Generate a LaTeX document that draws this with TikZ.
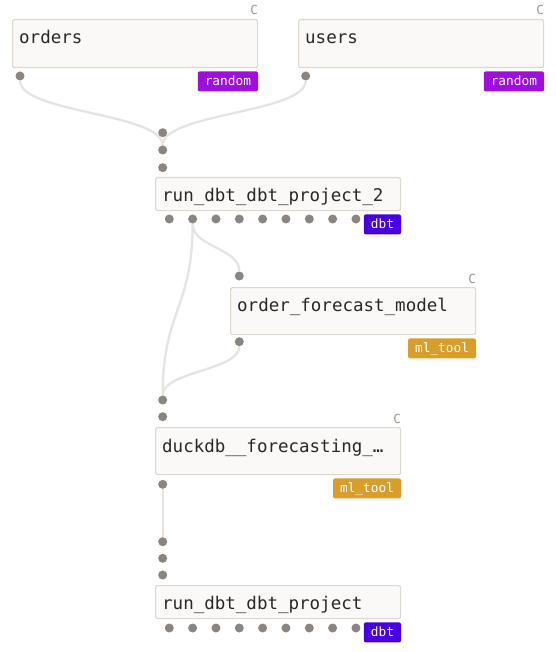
\documentclass[tikz,border=0pt]{standalone}
\usepackage{fontspec}
\setmonofont{DejaVu Sans Mono}
\usetikzlibrary{positioning,calc,backgrounds}
\definecolor{boxfill}{HTML}{FAF9F7}
\definecolor{boxline}{HTML}{DDD8CF}
\definecolor{inkc}{HTML}{2B2824}
\definecolor{kindc}{HTML}{9A9691}
\definecolor{portc}{HTML}{8A8580}
\definecolor{linkc}{HTML}{E6E4E1}
\definecolor{randomc}{HTML}{9E0FDC}
\definecolor{dbtc}{HTML}{4800E0}
\definecolor{mlc}{HTML}{D89E2C}
\tikzset{
  opbox/.style={draw=boxline,fill=boxfill,line width=1.2pt,rounded corners=2pt,
                anchor=north west,minimum width=245pt,inner sep=0pt},
  optext/.style={anchor=base west,inner sep=0pt,text=inkc,
                 font=\ttfamily\fontsize{17.5}{20}\selectfont},
  kind/.style={anchor=base east,inner sep=0pt,text=kindc,
               font=\ttfamily\fontsize{12.5}{14}\selectfont},
  tag/.style={anchor=north east,inner xsep=7pt,inner ysep=0pt,minimum height=20pt,
              text height=10.5pt,text depth=1.5pt,rounded corners=2pt,text=white,
              font=\ttfamily\fontsize{12.8}{14}\selectfont},
  port/.style={circle,fill=portc,minimum size=9pt,inner sep=0pt},
  link/.style={draw=linkc,line width=2.3pt},
}
\begin{document}
\begin{tikzpicture}[x=1pt,y=-1pt]
  \useasboundingbox (0,0) rectangle (555,652);
  \begin{scope}[on background layer]
    \fill[white] (0,0) rectangle (555,652);
  \end{scope}
  % ---- source assets ----
  \node[opbox,minimum height=48pt] (orders) at (12,19) {};
  \node[optext] at ($(orders.north west)+(7,24.5)$) {orders};
  \node[kind] at ($(orders.north east)+(0,-4)$) {C};
  \node[tag,fill=randomc] at ($(orders.south east)+(0,3)$) {random};
  \node[port] (ordersOut) at (20,76) {};
  \node[opbox,minimum height=48pt] (users) at (298,19) {};
  \node[optext] at ($(users.north west)+(7,24.5)$) {users};
  \node[kind] at ($(users.north east)+(0,-4)$) {C};
  \node[tag,fill=randomc] at ($(users.south east)+(0,3)$) {random};
  \node[port] (usersOut) at (305.7,76) {};
  % ---- first dbt run ----
  \node[opbox,minimum height=33pt] (runA) at (155,177) {};
  \node[optext] at ($(runA.north west)+(7,24.5)$) {run\_dbt\_dbt\_project\_2};
  \node[tag,fill=dbtc] at ($(runA.south east)+(0,3)$) {dbt};
  \foreach \i/\y in {1/132.7,2/150,3/167.7}
    \node[port] (runAin\i) at (162.7,\y) {};
  \foreach \i in {1,...,9}
    \node[port] (runAout\i) at ({169.3+23.33*(\i-1)},219) {};
  % ---- forecast model ----
  \node[opbox,minimum height=47pt] (model) at (230,287) {};
  \node[optext] at ($(model.north west)+(7,24.5)$) {order\_forecast\_model};
  \node[kind] at ($(model.north east)+(0,-4)$) {C};
  \node[tag,fill=mlc] at ($(model.south east)+(0,3)$) {ml\_tool};
  \node[port] (modelIn) at (239.3,276) {};
  \node[port] (modelOut) at (239.3,341.7) {};
  % ---- duckdb forecasting ----
  \node[opbox,minimum height=47pt] (duck) at (155,427) {};
  \node[optext] at ($(duck.north west)+(7,25.5)$) {duckdb\_\_forecasting\_…};
  \node[kind] at ($(duck.north east)+(0,-4)$) {C};
  \node[tag,fill=mlc] at ($(duck.south east)+(0,3)$) {ml\_tool};
  \foreach \i/\y in {1/400,2/416.7}
    \node[port] (duckIn\i) at (162.7,\y) {};
  \node[port] (duckOut) at (162.7,484.3) {};
  % ---- second dbt run ----
  \node[opbox,minimum height=33pt] (runB) at (155,585) {};
  \node[optext] at ($(runB.north west)+(7,24.5)$) {run\_dbt\_dbt\_project};
  \node[tag,fill=dbtc] at ($(runB.south east)+(0,3)$) {dbt};
  \foreach \i/\y in {1/541.7,2/558.3,3/575}
    \node[port] (runBin\i) at (162.7,\y) {};
  \foreach \i in {1,...,9}
    \node[port] (runBout\i) at ({169.3+23.33*(\i-1)},628) {};
  % ---- links ----
  \begin{scope}[on background layer]
    \draw[link] (ordersOut) .. controls +(0,37) and +(0,-37) .. (runAin2);
    \draw[link] (usersOut) .. controls +(0,37) and +(0,-37) .. (runAin2);
    \draw[link] (runAout2) .. controls +(0,28.5) and +(0,-28.5) .. (modelIn);
    \draw[link] (runAout2) .. controls +(0,90) and +(0,-90) .. (duckIn1);
    \draw[link] (modelOut) .. controls +(0,29) and +(0,-29) .. (duckIn1);
    \draw[link] (duckOut) -- (runBin1);
  \end{scope}
\end{tikzpicture}
\end{document}
